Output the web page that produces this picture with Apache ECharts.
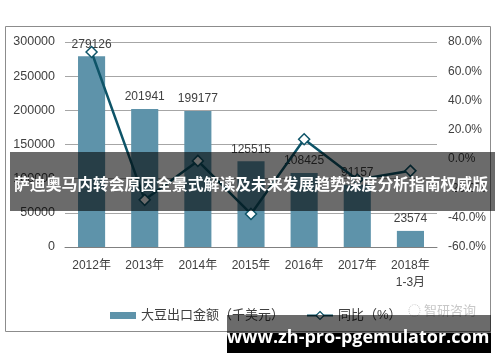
<!DOCTYPE html>
<html><head><meta charset="utf-8">
<script src="https://cdn.jsdelivr.net/npm/echarts@6/dist/echarts.min.js"></script>
<style>html,body{margin:0;padding:0;background:#fff}#c{width:500px;height:362px}</style>
</head><body><div id="c"></div>
<script>
const categories = ['2012年','2013年','2014年','2015年','2016年','2017年','2018年\n1-3月'];
const exportValues = [279126, 201941, 199177, 125515, 108425, 91157, 23574];
const yoyValues = [73.2, -27.8, -1.2, -37.4, 13.6, -14.0, -8.0];
const leftTicks = {min: 0, max: 300000, interval: 50000};
const rightTicks = {min: -60, max: 80, interval: 20};
const seriesNames = ['大豆出口金额（千美元）', '同比（%）'];
const bannerText = '萨迪奥马内转会原因全景式解读及未来发展趋势深度分析指南权威版';
const urlText = 'www.zh-pro-pgemulator.com';
const logoText = '智研咨询';

const FONT = '"Liberation Sans", "Noto Sans CJK SC", sans-serif';
const LINE = '#0E5468';
const chart = echarts.init(document.getElementById('c'));
chart.setOption({
  animation: false,
  textStyle: {fontFamily: FONT},
  grid: {left: 65, right: 63, top: 42, bottom: 115, containLabel: false},
  legend: {
    left: 105, top: 304, itemGap: 22, itemWidth: 26, itemHeight: 10,
    textStyle: {fontSize: 13, color: '#404040', fontFamily: FONT},
    data: [{name: seriesNames[0], icon: 'path://M0,3L26,3L26,10L0,10Z'},
           {name: seriesNames[1], itemStyle: {color: '#ffffff', borderColor: LINE, borderWidth: 1.2}}]
  },
  xAxis: {
    type: 'category', data: categories,
    axisLine: {show: true, lineStyle: {color: '#808080', width: 1}},
    axisTick: {show: false},
    axisLabel: {color: '#404040', fontSize: 12, margin: 10, lineHeight: 17, interval: 0}
  },
  yAxis: [{
    type: 'value', min: leftTicks.min, max: leftTicks.max, interval: leftTicks.interval,
    axisLine: {show: false}, axisTick: {show: false},
    axisLabel: {color: '#404040', fontSize: 12.5, margin: 10, formatter: v => String(v)},
    splitLine: {lineStyle: {color: '#a6a6a6', width: 1}}
  }, {
    type: 'value', min: rightTicks.min, max: rightTicks.max, interval: rightTicks.interval,
    axisLine: {show: false}, axisTick: {show: false}, splitLine: {show: false},
    axisLabel: {color: '#404040', fontSize: 12, margin: 11, formatter: v => v.toFixed(1) + '%'}
  }],
  series: [{
    name: seriesNames[0], type: 'bar', data: exportValues, barWidth: '51%',
    itemStyle: {color: '#5E93AA'},
    label: {show: true, position: 'top', distance: 6, color: '#404040', fontSize: 12}
  }, {
    name: seriesNames[1], type: 'line', yAxisIndex: 1, data: yoyValues,
    symbol: 'diamond', symbolSize: 11, showAllSymbol: true,
    lineStyle: {color: LINE, width: 2.5},
    itemStyle: {color: '#ffffff', borderColor: LINE, borderWidth: 1.5}
  }],
  graphic: [
    {type: 'rect', z: 0, silent: true, shape: {x: 5.5, y: 26.5, width: 485, height: 305},
     style: {fill: 'none', stroke: '#8c8c8c', lineWidth: 1}},
    {type: 'text', z: 50, left: 408, top: 304, style: {text: '◌ ' + logoText, fill: '#c8c8c8', font: '13px "Noto Sans CJK SC"'}},
    {type: 'rect', z: 100, silent: true, shape: {x: 10, y: 152, width: 485, height: 59},
     style: {fill: 'rgba(0,0,0,0.58)'}},
    {type: 'text', z: 101, x: 251, y: 184, style: {text: bannerText, fill: '#ffffff',
      font: 'bold 15.8px "Noto Sans CJK SC"', textAlign: 'center', textVerticalAlign: 'middle'}},
    {type: 'rect', z: 100, silent: true, shape: {x: 227, y: 315, width: 264, height: 18},
     style: {fill: 'rgba(0,0,0,0.58)'}},
    {type: 'rect', z: 100, silent: true, shape: {x: 227, y: 333, width: 264, height: 20},
     style: {fill: '#000000'}},
    {type: 'text', z: 101, x: 358, y: 338, style: {text: urlText, fill: '#ffffff',
      font: 'bold 18px "Open Sans"', textAlign: 'center', textVerticalAlign: 'middle'}}
  ]
});
</script></body></html>
